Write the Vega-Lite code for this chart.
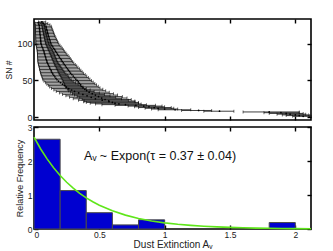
{
  "$schema": "https://vega.github.io/schema/vega-lite/v6.json",
  "background": "white",
  "padding": {"left": 4, "top": 17, "right": 21, "bottom": 4},
  "spacing": -1,
  "config": {
    "font": "Liberation Sans",
    "view": {"stroke": "#000", "strokeWidth": 1.6},
    "axis": {
      "domain": false, "grid": false,
      "tickColor": "#000", "tickWidth": 1.4, "tickSize": -4,
      "labelPadding": 6, "labelFont": "Liberation Sans", "labelFontSize": 9, "labelColor": "#222",
      "titleFont": "Liberation Sans", "titleFontWeight": "normal", "titleColor": "#222", "titleFontSize": 9, "titlePadding": 3
    }
  },
  "datasets": {
    "sn": [
      {"n":1,"c":2.06,"lo":1.98,"hi":2.12},{"n":2,"c":2.03,"lo":1.93,"hi":2.11},{"n":3,"c":2.0,"lo":1.9,"hi":2.1},
      {"n":4,"c":1.96,"lo":1.86,"hi":2.08},{"n":5,"c":1.93,"lo":1.8,"hi":2.06},{"n":6,"c":1.89,"lo":1.76,"hi":2.03},
      {"n":7,"c":1.8,"lo":1.6,"hi":2.03},{"n":8,"c":1.42,"lo":1.3,"hi":1.53},{"n":9,"c":1.26,"lo":1.13,"hi":1.36},
      {"n":10,"c":1.08,"lo":0.95,"hi":1.2},{"n":11,"c":1.0,"lo":0.9,"hi":1.1},{"n":12,"c":0.95,"lo":0.85,"hi":1.07},
      {"n":13,"c":0.92,"lo":0.8,"hi":1.05},{"n":14,"c":0.88,"lo":0.77,"hi":1.0},{"n":15,"c":0.84,"lo":0.72,"hi":0.98},
      {"n":16,"c":0.78,"lo":0.62,"hi":0.93},{"n":17,"c":0.7,"lo":0.52,"hi":0.86},{"n":18,"c":0.65,"lo":0.47,"hi":0.82},
      {"n":19,"c":0.62,"lo":0.43,"hi":0.8},{"n":20,"c":0.6,"lo":0.4,"hi":0.8},
      {"n":21,"c":0.574,"lo":0.38,"hi":0.774},{"n":22,"c":0.572,"lo":0.384,"hi":0.772},{"n":23,"c":0.522,"lo":0.34,"hi":0.722},
      {"n":24,"c":0.544,"lo":0.368,"hi":0.744},{"n":25,"c":0.47,"lo":0.3,"hi":0.67},{"n":26,"c":0.518,"lo":0.35,"hi":0.712},
      {"n":27,"c":0.438,"lo":0.272,"hi":0.626},{"n":28,"c":0.494,"lo":0.33,"hi":0.676},{"n":29,"c":0.406,"lo":0.244,"hi":0.582},
      {"n":30,"c":0.47,"lo":0.31,"hi":0.64},{"n":31,"c":0.374,"lo":0.218,"hi":0.54},{"n":32,"c":0.446,"lo":0.294,"hi":0.608},
      {"n":33,"c":0.342,"lo":0.194,"hi":0.5},{"n":34,"c":0.422,"lo":0.278,"hi":0.576},{"n":35,"c":0.31,"lo":0.17,"hi":0.46},
      {"n":36,"c":0.403,"lo":0.265,"hi":0.549},{"n":37,"c":0.288,"lo":0.152,"hi":0.43},{"n":38,"c":0.389,"lo":0.255,"hi":0.527},
      {"n":39,"c":0.266,"lo":0.134,"hi":0.4},{"n":40,"c":0.375,"lo":0.245,"hi":0.505},{"n":41,"c":0.248,"lo":0.12,"hi":0.376},
      {"n":42,"c":0.366,"lo":0.24,"hi":0.492},{"n":43,"c":0.233,"lo":0.109,"hi":0.357},{"n":44,"c":0.357,"lo":0.235,"hi":0.479},
      {"n":45,"c":0.218,"lo":0.098,"hi":0.338},{"n":46,"c":0.348,"lo":0.23,"hi":0.466},{"n":47,"c":0.203,"lo":0.087,"hi":0.319},
      {"n":48,"c":0.339,"lo":0.225,"hi":0.453},{"n":49,"c":0.188,"lo":0.076,"hi":0.3},{"n":50,"c":0.33,"lo":0.22,"hi":0.44},
      {"n":51,"c":0.176,"lo":0.068,"hi":0.285},{"n":52,"c":0.32,"lo":0.214,"hi":0.428},{"n":53,"c":0.168,"lo":0.064,"hi":0.275},
      {"n":54,"c":0.31,"lo":0.208,"hi":0.416},{"n":55,"c":0.16,"lo":0.06,"hi":0.265},{"n":56,"c":0.3,"lo":0.202,"hi":0.404},
      {"n":57,"c":0.152,"lo":0.056,"hi":0.255},{"n":58,"c":0.29,"lo":0.196,"hi":0.392},{"n":59,"c":0.144,"lo":0.052,"hi":0.245},
      {"n":60,"c":0.28,"lo":0.19,"hi":0.38},{"n":61,"c":0.137,"lo":0.049,"hi":0.236},{"n":62,"c":0.272,"lo":0.185,"hi":0.369},
      {"n":63,"c":0.132,"lo":0.046,"hi":0.228},{"n":64,"c":0.264,"lo":0.179,"hi":0.359},{"n":65,"c":0.127,"lo":0.043,"hi":0.22},
      {"n":66,"c":0.256,"lo":0.174,"hi":0.348},{"n":67,"c":0.121,"lo":0.041,"hi":0.212},{"n":68,"c":0.248,"lo":0.169,"hi":0.337},
      {"n":69,"c":0.116,"lo":0.038,"hi":0.204},{"n":70,"c":0.24,"lo":0.163,"hi":0.327},{"n":71,"c":0.111,"lo":0.035,"hi":0.196},
      {"n":72,"c":0.232,"lo":0.158,"hi":0.316},{"n":73,"c":0.105,"lo":0.033,"hi":0.188},{"n":74,"c":0.224,"lo":0.153,"hi":0.305},
      {"n":75,"c":0.1,"lo":0.03,"hi":0.18},{"n":76,"c":0.216,"lo":0.148,"hi":0.296},{"n":77,"c":0.097,"lo":0.029,"hi":0.175},
      {"n":78,"c":0.209,"lo":0.143,"hi":0.287},{"n":79,"c":0.093,"lo":0.029,"hi":0.171},{"n":80,"c":0.202,"lo":0.138,"hi":0.278},
      {"n":81,"c":0.09,"lo":0.028,"hi":0.166},{"n":82,"c":0.194,"lo":0.134,"hi":0.27},{"n":83,"c":0.087,"lo":0.027,"hi":0.161},
      {"n":84,"c":0.187,"lo":0.129,"hi":0.261},{"n":85,"c":0.083,"lo":0.027,"hi":0.157},{"n":86,"c":0.18,"lo":0.124,"hi":0.252},
      {"n":87,"c":0.08,"lo":0.026,"hi":0.152},{"n":88,"c":0.172,"lo":0.12,"hi":0.244},{"n":89,"c":0.077,"lo":0.025,"hi":0.147},
      {"n":90,"c":0.165,"lo":0.115,"hi":0.235},{"n":91,"c":0.073,"lo":0.024,"hi":0.142},{"n":92,"c":0.158,"lo":0.11,"hi":0.226},
      {"n":93,"c":0.069,"lo":0.022,"hi":0.136},{"n":94,"c":0.151,"lo":0.105,"hi":0.217},{"n":95,"c":0.065,"lo":0.02,"hi":0.13},
      {"n":96,"c":0.144,"lo":0.1,"hi":0.208},{"n":97,"c":0.06,"lo":0.017,"hi":0.123},{"n":98,"c":0.137,"lo":0.095,"hi":0.199},
      {"n":99,"c":0.056,"lo":0.015,"hi":0.117},{"n":100,"c":0.13,"lo":0.09,"hi":0.19},{"n":101,"c":0.053,"lo":0.014,"hi":0.112},
      {"n":102,"c":0.126,"lo":0.087,"hi":0.184},{"n":103,"c":0.052,"lo":0.014,"hi":0.109},{"n":104,"c":0.123,"lo":0.085,"hi":0.179},
      {"n":105,"c":0.051,"lo":0.014,"hi":0.106},{"n":106,"c":0.119,"lo":0.082,"hi":0.173},{"n":107,"c":0.05,"lo":0.013,"hi":0.103},
      {"n":108,"c":0.116,"lo":0.08,"hi":0.168},{"n":109,"c":0.049,"lo":0.013,"hi":0.1},{"n":110,"c":0.112,"lo":0.077,"hi":0.162},
      {"n":111,"c":0.048,"lo":0.013,"hi":0.097},{"n":112,"c":0.109,"lo":0.075,"hi":0.158},{"n":113,"c":0.046,"lo":0.012,"hi":0.094},
      {"n":114,"c":0.106,"lo":0.072,"hi":0.153},{"n":115,"c":0.045,"lo":0.012,"hi":0.092},{"n":116,"c":0.103,"lo":0.07,"hi":0.149},
      {"n":117,"c":0.044,"lo":0.011,"hi":0.089},{"n":118,"c":0.1,"lo":0.068,"hi":0.145},{"n":119,"c":0.043,"lo":0.011,"hi":0.087},
      {"n":120,"c":0.097,"lo":0.065,"hi":0.14},{"n":121,"c":0.042,"lo":0.011,"hi":0.085},{"n":122,"c":0.094,"lo":0.063,"hi":0.136},
      {"n":123,"c":0.041,"lo":0.01,"hi":0.082},{"n":124,"c":0.092,"lo":0.061,"hi":0.132},{"n":125,"c":0.04,"lo":0.01,"hi":0.08},
      {"n":126,"c":0.084,"lo":0.055,"hi":0.122},{"n":127,"c":0.036,"lo":0.008,"hi":0.072},{"n":128,"c":0.072,"lo":0.045,"hi":0.106},
      {"n":129,"c":0.032,"lo":0.006,"hi":0.064},{"n":130,"c":0.06,"lo":0.035,"hi":0.09}
    ],
    "hist": [
      {"b0":0.0,"b1":0.2,"f":2.64},{"b0":0.2,"b1":0.4,"f":1.13},{"b0":0.4,"b1":0.6,"f":0.48},
      {"b0":0.6,"b1":0.8,"f":0.12},{"b0":0.8,"b1":1.0,"f":0.27},{"b0":1.8,"b1":2.0,"f":0.19}
    ],
    "fit": [
      {"x":0,"y":2.703},{"x":0.05,"y":2.361},{"x":0.1,"y":2.063},{"x":0.15,"y":1.802},{"x":0.2,"y":1.574},
      {"x":0.25,"y":1.375},{"x":0.3,"y":1.201},{"x":0.35,"y":1.05},{"x":0.4,"y":0.917},{"x":0.45,"y":0.801},
      {"x":0.5,"y":0.7},{"x":0.6,"y":0.534},{"x":0.7,"y":0.408},{"x":0.8,"y":0.311},{"x":0.9,"y":0.237},
      {"x":1.0,"y":0.181},{"x":1.1,"y":0.138},{"x":1.2,"y":0.106},{"x":1.3,"y":0.081},{"x":1.4,"y":0.062},
      {"x":1.5,"y":0.047},{"x":1.6,"y":0.036},{"x":1.7,"y":0.027},{"x":1.8,"y":0.021},{"x":1.9,"y":0.016},
      {"x":2.0,"y":0.012},{"x":2.12,"y":0.009}
    ],
    "note": [{"x":0.383,"y":2.03,"label":"Aᵥ ~ Expon(τ = 0.37 ± 0.04)"}]
  },
  "vconcat": [
    {
      "width": 277, "height": 101,
      "data": {"name": "sn"},
      "resolve": {"axis": {"x": "independent", "y": "independent"}},
      "layer": [
        {
          "mark": {"type": "rule", "color": "#2a2a2a", "strokeWidth": 0.9},
          "encoding": {
            "x": {"field": "lo", "type": "quantitative", "scale": {"domain": [0, 2.12], "nice": false, "zero": false},
                  "axis": {"orient": "bottom", "values": [0.5, 1, 1.5, 2], "labels": false, "title": null}},
            "x2": {"field": "hi"},
            "y": {"field": "n", "type": "quantitative", "scale": {"domain": [-4, 134], "nice": false, "zero": false},
                  "axis": {"orient": "left", "values": [0, 50, 100], "title": "SN #", "titleFontSize": 8.5}}
          }
        },
        {
          "mark": {"type": "tick", "orient": "vertical", "color": "#000", "size": 3, "thickness": 0.8},
          "encoding": {
            "x": {"field": "lo", "type": "quantitative", "axis": null},
            "y": {"field": "n", "type": "quantitative", "axis": null}
          }
        },
        {
          "mark": {"type": "tick", "orient": "vertical", "color": "#000", "size": 3, "thickness": 0.8},
          "encoding": {
            "x": {"field": "hi", "type": "quantitative", "axis": null},
            "y": {"field": "n", "type": "quantitative", "axis": null}
          }
        },
        {
          "mark": {"type": "point", "filled": true, "color": "#000", "size": 3, "opacity": 1},
          "encoding": {
            "x": {"field": "c", "type": "quantitative",
                  "axis": {"orient": "top", "values": [0.5, 1, 1.5, 2], "labels": false, "title": null}},
            "y": {"field": "n", "type": "quantitative",
                  "axis": {"orient": "right", "values": [0, 50, 100], "labels": false, "title": null}}
          }
        }
      ]
    },
    {
      "width": 277, "height": 102,
      "resolve": {"axis": {"x": "independent", "y": "independent"}},
      "layer": [
        {
          "data": {"name": "hist"},
          "mark": {"type": "bar", "color": "#0000d0", "stroke": "#4a4a4a", "strokeWidth": 1},
          "encoding": {
            "x": {"field": "b0", "type": "quantitative", "scale": {"domain": [0, 2.12], "nice": false, "zero": false},
                  "axis": {"orient": "bottom", "values": [0, 0.5, 1, 1.5, 2], "format": "~g", "title": "Dust Extinction Aᵥ", "titleFontSize": 10, "titlePadding": 1, "labelFontSize": 8.5, "labelPadding": 5}},
            "x2": {"field": "b1"},
            "y": {"field": "f", "type": "quantitative", "scale": {"domain": [0, 3], "nice": false},
                  "axis": {"orient": "left", "values": [0, 1, 2, 3], "title": "Relative Frequency", "labelFontSize": 8.5}},
            "y2": {"datum": 0}
          }
        },
        {
          "data": {"name": "fit"},
          "mark": {"type": "line", "color": "#5fe61a", "strokeWidth": 1.6},
          "encoding": {
            "x": {"field": "x", "type": "quantitative",
                  "axis": {"orient": "top", "values": [0.5, 1, 1.5, 2], "labels": false, "title": null}},
            "y": {"field": "y", "type": "quantitative",
                  "axis": {"orient": "right", "values": [0, 1, 2, 3], "labels": false, "title": null}}
          }
        },
        {
          "data": {"name": "note"},
          "mark": {"type": "text", "align": "left", "baseline": "alphabetic", "fontSize": 12.5, "font": "Liberation Sans", "color": "#111"},
          "encoding": {
            "x": {"field": "x", "type": "quantitative", "axis": null},
            "y": {"field": "y", "type": "quantitative", "axis": null},
            "text": {"field": "label"}
          }
        }
      ]
    }
  ]
}
